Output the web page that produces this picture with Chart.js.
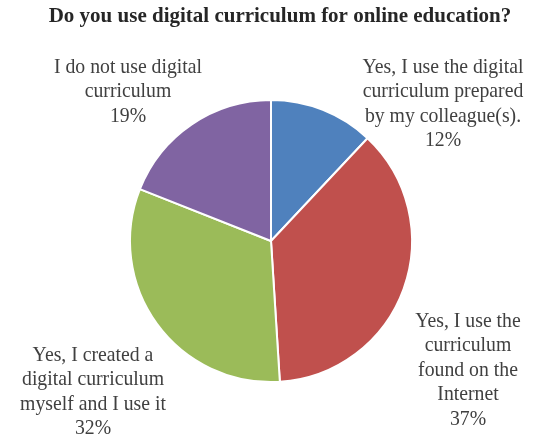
<!DOCTYPE html>
<html>
<head>
<meta charset="utf-8">
<script src="https://cdn.jsdelivr.net/npm/chart.js@4"></script>
<style>
  body { margin: 0; background: #fff; }
  #wrap { width: 536px; height: 442px; }
</style>
</head>
<body>
<div id="wrap"><canvas id="myChart" width="536" height="442"></canvas></div>
<script>
var categories = [
  ['Yes, I use the digital', 'curriculum prepared', 'by my colleague(s).'],
  ['Yes, I use the', 'curriculum', 'found on the', 'Internet'],
  ['Yes, I created a', 'digital curriculum', 'myself and I use it'],
  ['I do not use digital', 'curriculum']
]
var shares = [12, 37, 32, 19]
var sliceColors = ['#4F81BD', '#C0504D', '#9BBB59', '#8064A2']
var chartTitle = 'Do you use digital curriculum for online education?'

// where each label block sits (center x, first line y)
var labelSpots = [[443, 67], [468, 321], [93, 355], [128, 67]]
var serif = '"Liberation Serif", "DejaVu Serif", serif'

const outsideLabels = {
  id: 'outsideLabels',
  afterDraw(chart) {
    const ctx = chart.ctx
    ctx.save()
    ctx.textAlign = 'center'
    ctx.textBaseline = 'middle'
    ctx.fillStyle = '#262626'
    ctx.font = 'bold 21px ' + serif
    ctx.fillText(chartTitle, 280, 17)

    ctx.fillStyle = '#404040'
    ctx.font = '21px ' + serif
    const meta = chart.getDatasetMeta(0)
    meta.data.forEach((arc, i) => {
      const lines = categories[i].concat([shares[i] + '%'])
      const spot = labelSpots[i]
      lines.forEach((t, j) => {
        ctx.save()
        ctx.translate(spot[0], spot[1] + j * 24.5)
        ctx.scale(0.94, 1)
        ctx.fillText(t, 0, 0)
        ctx.restore()
      })
    })
    ctx.restore()
  }
}

const ctx = document.getElementById('myChart').getContext('2d')
const myChart = new Chart(ctx, {
  type: 'pie',
  data: {
    labels: categories.map(c => c.join(' ')),
    datasets: [{
      data: shares,
      backgroundColor: sliceColors,
      borderColor: '#ffffff',
      borderWidth: 2
    }]
  },
  options: {
    responsive: false,
    animation: false,
    layout: { padding: { left: 129, right: 123, top: 99, bottom: 59 } },
    plugins: {
      legend: { display: false },
      tooltip: { enabled: false },
      title: { display: false }
    }
  },
  plugins: [outsideLabels]
})
</script>
</body>
</html>
